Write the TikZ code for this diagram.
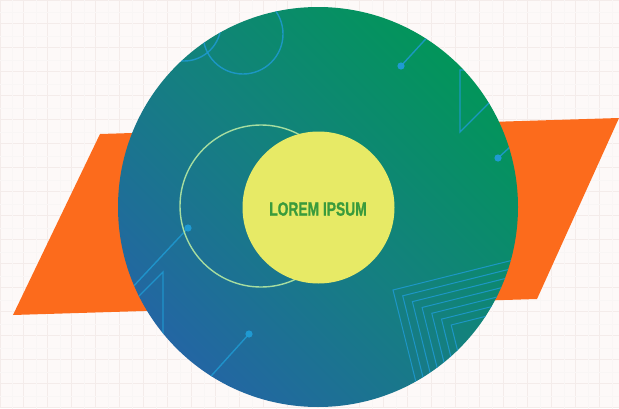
\documentclass[tikz,border=0pt]{standalone}
\usepackage{fontspec}
\setmainfont{Liberation Sans}
\newfontfamily\titlefont[FakeBold=1.2]{Liberation Sans Bold}
\usepackage{xcolor}
\usepackage{tikz}
\definecolor{bgpink}{HTML}{FDF9F8}
\definecolor{gridpink}{HTML}{F4ECEA}
\definecolor{bandorange}{HTML}{FC6B1C}
\definecolor{discblue}{HTML}{2366A3}
\definecolor{discteal}{HTML}{14807F}
\definecolor{discgreen}{HTML}{02955A}
\definecolor{decoblue}{HTML}{1F9AD2}
\definecolor{hubyellow}{HTML}{E7EA66}
\definecolor{hubtext}{HTML}{3A9B3C}
\definecolor{ringgreen}{HTML}{A6DDA0}
\tikzset{
deco/.style = {draw=decoblue, draw opacity=0.85, line width=#1},
deco/.default = 0.07cm, % thin lines inside the disc
tipdot/.style = {circle, fill=decoblue, inner sep=0pt, minimum size=0.36cm},
}

\begin{document}
\begin{tikzpicture}[x=0.05cm, y=-0.05cm]
    \useasboundingbox (0,0) rectangle (619,408);
    \fill[bgpink] (0,0) rectangle (619,408);
    \draw[gridpink, line width=0.05cm, step=1.2cm] (0,0) grid (619,408);
    \draw[gridpink!50, line width=0.03cm, shift={(12,12)}, step=1.2cm] (-12,-12) grid (619,408);

    % orange band behind the disc
    \fill[bandorange] (13,315) -- (100,134) -- (619,118) -- (537,299) -- cycle;

    % the disc
    \shade[top color=discgreen, bottom color=discblue, middle color=discteal, shading angle=-45] (318,207) circle (200);

    \begin{scope}
        \clip (318,207) circle (200);
        \draw[deco] (243,34) circle (40);
        \draw[deco] (184,24) circle (37);
        \node[tipdot] (dotA) at (401,66) {};
        \draw[deco] (dotA.center) -- (445,18);
        \draw[deco] (460,70) -- (460,132) -- (522,70) -- cycle;
        \node[tipdot] (dotB) at (498,158) {};
        \draw[deco] (dotB.center) -- (545,115);
        \node[tipdot] (dotC) at (188,228) {};
        \draw[deco] (dotC.center) -- (100,322);
        \draw[deco] (163,272) -- (163,345) -- (90,345) -- cycle;
        \node[tipdot] (dotD) at (249,334) {};
        \draw[deco] (dotD.center) -- (185,405);
        % nested corners
        \begin{scope}[shift={(393,290)}, rotate=14]
            \foreach \k in {0,...,6}
                \draw[deco=0.05cm] (8*\k,160) -- (8*\k,8*\k) -- (160,8*\k);
        \end{scope}
    \end{scope}

    \draw[ringgreen, line width=0.07cm] (261,206) circle (81);
    \node[circle, fill=hubyellow, minimum size=7.6cm, inner sep=0pt] (hub) at (318.5,207.5) {};
    \node[text=hubtext, inner sep=0pt] (title) at (318,209) {\scalebox{0.72}[1]{\fontsize{27.3}{28}\selectfont\titlefont LOREM IPSUM}};
\end{tikzpicture}
\end{document}
